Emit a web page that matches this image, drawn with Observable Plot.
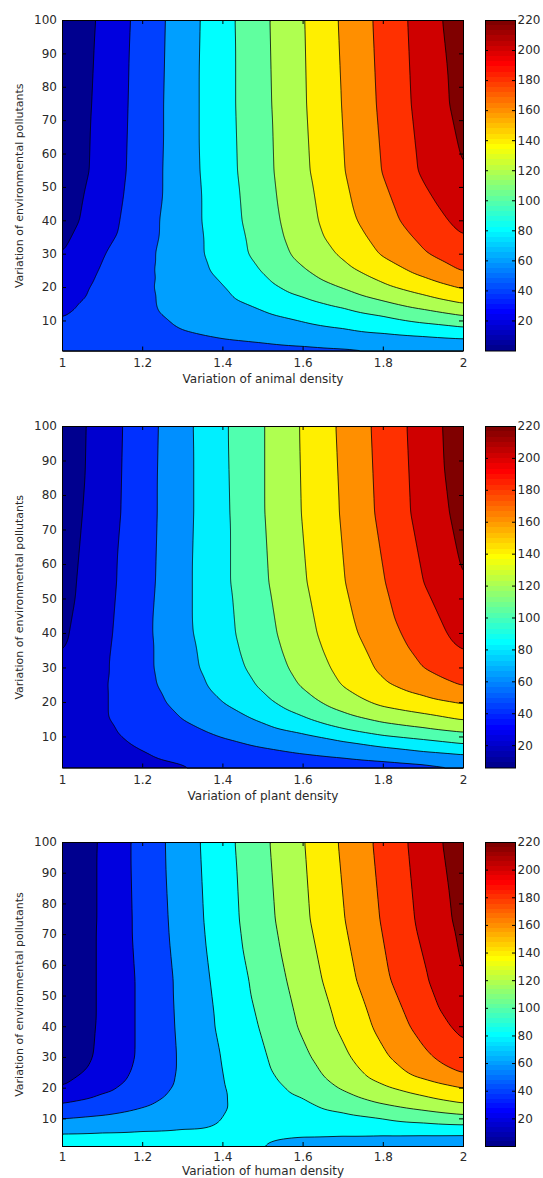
<!DOCTYPE html>
<html>
<head>
<meta charset="utf-8">
<script src="https://cdn.jsdelivr.net/npm/d3@7"></script>
<script src="https://cdn.jsdelivr.net/npm/@observablehq/plot@0.6"></script>
<style>
  html, body { margin: 0; padding: 0; background: #fff; }
  #root { position: relative; width: 543px; height: 1178px; overflow: hidden; background: #fff; }
  #root svg { position: absolute; }
</style>
</head>
<body>
<div id="root"></div>
<script>
// ---------------- data ----------------
const xGrid = [1, 1.1, 1.2, 1.3, 1.4, 1.5, 1.6, 1.7, 1.8, 1.9, 2];
const yGrid = [1, 3, 5, 8, 11, 15, 20, 25, 30, 40, 55, 75, 100];

// rows follow yGrid (bottom to top), columns follow xGrid
const animalZ = [
  [47, 48, 50, 51, 52, 54, 55, 56, 58, 59, 61],
  [46, 49, 51, 54, 56, 59, 62, 65, 67, 69, 71],
  [45, 49, 53, 57, 61, 64, 68, 71, 74, 78, 82],
  [43, 49, 55, 61, 66, 71, 76, 81, 88, 94, 99],
  [40, 48, 56, 63, 70, 76, 83, 90, 98, 107, 117],
  [36, 47, 57, 66, 74, 84, 94, 104, 116, 128, 139],
  [30, 45, 57, 68, 79, 94, 108, 121, 136, 149, 162],
  [25, 42, 56, 70, 85, 101, 118, 134, 150, 166, 181],
  [20, 39, 55, 71, 88, 107, 126, 143, 162, 178, 192],
  [12, 31, 52, 71, 90, 111, 132, 153, 173, 190, 206],
  [6, 27, 49, 71, 92, 114, 136, 159, 181, 203, 220],
  [4, 26, 48, 71, 93, 115, 138, 161, 184, 207, 227],
  [1, 24, 47, 70, 93, 116, 139, 163, 186, 209, 232]
];
const plantZ = [
  [30, 33, 36, 39, 42, 44, 47, 49, 52, 55, 57],
  [32, 35, 38, 41, 45, 49, 52, 56, 60, 64, 69],
  [32, 36, 39, 44, 50, 55, 60, 65, 71, 76, 81],
  [31, 36, 42, 49, 56, 63, 70, 76, 84, 92, 100],
  [30, 37, 45, 54, 63, 71, 80, 93, 104, 111, 118],
  [28, 38, 49, 60, 71, 83, 97, 112, 124, 132, 141],
  [26, 38, 52, 66, 80, 95, 112, 130, 145, 154, 162],
  [24, 38, 54, 71, 86, 103, 122, 141, 157, 169, 181],
  [22, 37, 55, 73, 90, 108, 127, 146, 164, 180, 193],
  [17, 35, 55, 75, 94, 113, 133, 153, 172, 190, 207],
  [13, 33, 53, 75, 96, 117, 138, 159, 179, 200, 220],
  [10, 30, 52, 74, 96, 119, 141, 162, 185, 207, 227],
  [7, 29, 51, 74, 97, 119, 142, 164, 187, 209, 232]
];
const humanZ = [
  [90, 89, 88, 86, 83, 80, 77, 75, 73, 72, 71],
  [86, 86, 85, 84, 83, 80.5, 78, 77, 76, 75.5, 75],
  [81, 82, 83, 83.5, 83, 82.5, 81.5, 81, 80.6, 80.3, 80],
  [68, 71, 74, 77, 81, 84, 87, 90, 94, 97, 100],
  [56, 60, 66, 73, 80, 85, 91, 97, 103, 111, 118],
  [40, 49, 57, 68, 79, 88, 97, 109, 121, 131, 140],
  [21, 35, 50, 64, 79, 92, 106, 122, 137, 149, 160],
  [13, 27, 46, 63, 80, 96, 112, 130, 150, 167, 181],
  [8, 24, 44, 63, 81, 98, 116, 136, 157, 176, 192],
  [6, 23, 44, 64, 84, 102, 123, 144, 166, 187, 206],
  [4, 23, 44, 65, 87, 107, 129, 152, 176, 197, 220],
  [2, 23, 46, 68, 91, 113, 136, 159, 182, 205, 226],
  [0, 23, 47, 70, 93, 116, 139, 163, 186, 209, 232]
];

const levels = [20, 40, 60, 80, 100, 120, 140, 160, 180, 200, 220];
const xTicks = [1, 1.2, 1.4, 1.6, 1.8, 2];
const yTicks = [10, 20, 30, 40, 50, 60, 70, 80, 90, 100];
const colorbarTicks = [20, 40, 60, 80, 100, 120, 140, 160, 180, 200, 220];
const colorMin = [0, 6, 0];
const colorMax = 220;
const xLabels = ["Variation of animal density", "Variation of plant density", "Variation of human density"];
const yLabel = "Variation of environmental pollutants";
const fields = [animalZ, plantZ, humanZ];

// ---------------- layout / style ----------------
const frames = [
  { top: 19.5, bottom: 350, tickPad: 7, labelDy: 28 },
  { top: 426, bottom: 767.5, tickPad: 7.5, labelDy: 28.5 },
  { top: 842, bottom: 1146, tickPad: 5.5, labelDy: 24.5 }
];
const FONT = "DejaVu Sans";
const FRAME_L = 62, FRAME_R = 463, CB_L = 485, CB_R = 515;

// MATLAB jet(64)
const ju = j => (j <= 16 ? j / 16 : j <= 31 ? 1 : (48 - j) / 16);
function jet64(t) {
  let i = Math.floor(t * 64) + 1;
  i = Math.max(1, Math.min(64, i));
  const r = i >= 25 ? ju(i - 24) : 0;
  const g = i >= 9 && i <= 55 ? ju(i - 8) : 0;
  const b = i <= 39 ? ju(i + 8) : 0;
  return `rgb(${Math.round(r * 255)},${Math.round(g * 255)},${Math.round(b * 255)})`;
}

const root = document.getElementById("root");

fields.forEach((Z, i) => {
  const { top, bottom, tickPad, labelDy } = frames[i];
  const fh = bottom - top;
  const fw = FRAME_R - FRAME_L;
  const mt = 10, mb = 40;
  const cmin = colorMin[i];
  const color = { type: "linear", domain: [cmin, colorMax], interpolate: jet64, clamp: true };
  const points = yGrid.flatMap((y, r) => xGrid.map((x, c) => ({ x, y, z: Z[r][c] })));
  const style = { fontFamily: FONT, fontSize: "12px", color: "#2a2a2a", background: "transparent", overflow: "visible" };

  const main = Plot.plot({
    width: FRAME_R + 17,
    height: mt + fh + mb,
    marginLeft: FRAME_L, marginRight: 17, marginTop: mt, marginBottom: mb,
    style,
    x: { domain: [1, 2] },
    y: { domain: [1, 100] },
    color,
    marks: [
      Plot.frame({ fill: jet64(0), stroke: "none" }),
      Plot.contour(points, {
        x: "x", y: "y", fill: "z",
        thresholds: levels,
        interpolate: "barycentric",
        pixelSize: 1,
        blur: 3,
        stroke: "#000", strokeWidth: 0.8
      }),
      Plot.ruleX(xTicks, { insetTop: fh - 4, stroke: "#000" }),
      Plot.ruleX(xTicks, { insetBottom: fh - 4, stroke: "#000" }),
      Plot.ruleY(yTicks, { insetRight: fw - 4, stroke: "#000" }),
      Plot.ruleY(yTicks, { insetLeft: fw - 4, stroke: "#000" }),
      Plot.frame({ stroke: "#000" }),
      Plot.axisX({ ticks: xTicks, tickFormat: d => String(d), tickSize: 0, tickPadding: tickPad, label: null }),
      Plot.axisY({ ticks: yTicks, tickFormat: d => String(d), tickSize: 0, tickPadding: 5.5, label: null }),
      Plot.text([xLabels[i]], { frameAnchor: "bottom", dy: labelDy, text: d => d, fontSize: 12, lineAnchor: "middle", textAnchor: "middle" }),
      Plot.text([yLabel], { frameAnchor: "left", dx: -43, rotate: -90, text: d => d, fontSize: 11, lineAnchor: "middle", textAnchor: "middle" })
    ]
  });
  main.style.left = "0px";
  main.style.top = (top - mt) + "px";
  root.appendChild(main);

  const steps = d3.range(64).map(k => ({
    y1: cmin + k * (colorMax - cmin) / 64,
    y2: cmin + (k + 1) * (colorMax - cmin) / 64,
    v: cmin + (k + 0.5) * (colorMax - cmin) / 64
  }));
  const cbw = CB_R - CB_L;
  const cb = Plot.plot({
    width: 73,
    height: mt + fh + mb,
    marginLeft: 15, marginRight: 28, marginTop: mt, marginBottom: mb,
    style,
    y: { domain: [cmin, colorMax] },
    color,
    marks: [
      Plot.rect(steps, { y1: "y1", y2: "y2", fill: "v", shapeRendering: "crispEdges" }),
      Plot.ruleY(colorbarTicks, { insetRight: cbw - 3, stroke: "#000" }),
      Plot.ruleY(colorbarTicks, { insetLeft: cbw - 3, stroke: "#000" }),
      Plot.frame({ stroke: "#000" }),
      Plot.axisY({ anchor: "right", ticks: colorbarTicks, tickFormat: d => String(d), tickSize: 0, tickPadding: 2, label: null })
    ]
  });
  cb.style.left = (CB_L - 15) + "px";
  cb.style.top = (top - mt) + "px";
  root.appendChild(cb);
});
</script>
</body>
</html>
